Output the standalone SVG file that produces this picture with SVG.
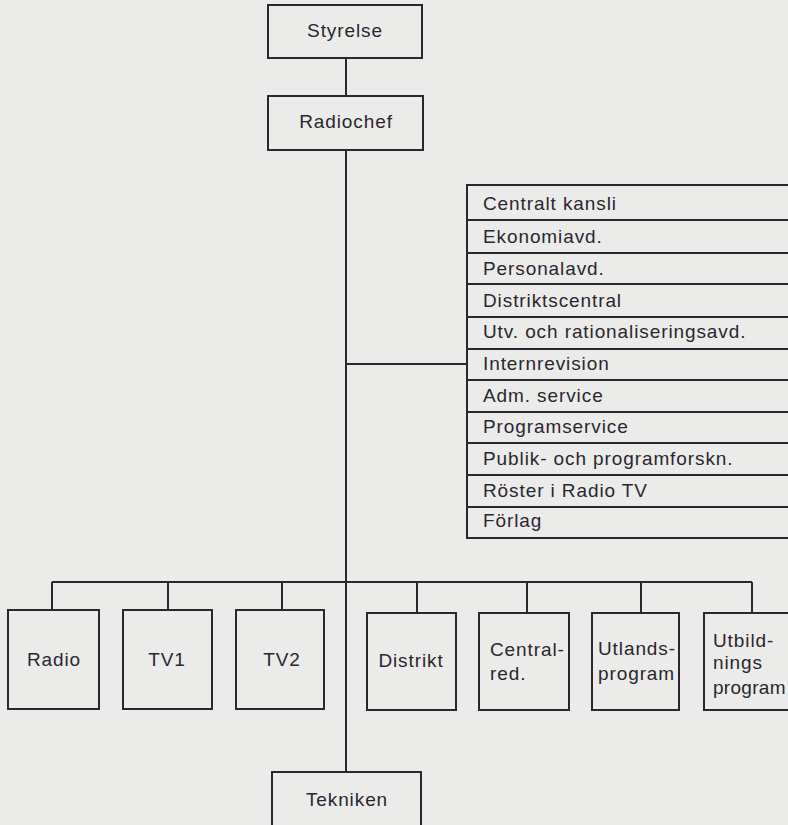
<svg xmlns="http://www.w3.org/2000/svg" width="788" height="825" viewBox="0 0 788 825">
<style>
.bx{fill:none;stroke:#2b2630;stroke-width:2}
.ln{fill:none;stroke:#2b2630;stroke-width:2}
text{font-family:"Liberation Sans",Arial,sans-serif;font-size:19px;letter-spacing:0.9px;fill:#2b2630}
.c{text-anchor:middle}
</style>
<rect x="0" y="0" width="788" height="825" fill="#ebebe9"/>
<g id="connectors">
<line class="ln" x1="346" y1="58" x2="346" y2="96"/>
<line class="ln" x1="346" y1="150" x2="346" y2="772"/>
<line class="ln" x1="346" y1="364" x2="467" y2="364"/>
<line class="ln" x1="52" y1="582" x2="752" y2="582"/>
<line class="ln" x1="52" y1="582" x2="52" y2="610"/>
<line class="ln" x1="168" y1="582" x2="168" y2="610"/>
<line class="ln" x1="282" y1="582" x2="282" y2="610"/>
<line class="ln" x1="417" y1="582" x2="417" y2="613"/>
<line class="ln" x1="527" y1="582" x2="527" y2="613"/>
<line class="ln" x1="641" y1="582" x2="641" y2="613"/>
<line class="ln" x1="752" y1="582" x2="752" y2="613"/>
</g>
<g id="styrelse"><rect class="bx" x="268" y="5" width="154" height="53"/><text class="c" x="345" y="37">Styrelse</text></g>
<g id="radiochef"><rect class="bx" x="268" y="96" width="155" height="54"/><text class="c" x="346" y="128">Radiochef</text></g>
<g id="stab">
<rect class="bx" x="467" y="185" width="340" height="353"/>
<line class="ln" x1="467" y1="220" x2="790" y2="220"/>
<line class="ln" x1="467" y1="253" x2="790" y2="253"/>
<line class="ln" x1="467" y1="284" x2="790" y2="284"/>
<line class="ln" x1="467" y1="317" x2="790" y2="317"/>
<line class="ln" x1="467" y1="349" x2="790" y2="349"/>
<line class="ln" x1="467" y1="380" x2="790" y2="380"/>
<line class="ln" x1="467" y1="412" x2="790" y2="412"/>
<line class="ln" x1="467" y1="443" x2="790" y2="443"/>
<line class="ln" x1="467" y1="475" x2="790" y2="475"/>
<line class="ln" x1="467" y1="507" x2="790" y2="507"/>
<text x="483" y="210">Centralt kansli</text>
<text x="483" y="243">Ekonomiavd.</text>
<text x="483" y="275">Personalavd.</text>
<text x="483" y="307">Distriktscentral</text>
<text x="483" y="338">Utv. och rationaliseringsavd.</text>
<text x="483" y="370">Internrevision</text>
<text x="483" y="402">Adm. service</text>
<text x="483" y="433">Programservice</text>
<text x="483" y="465">Publik- och programforskn.</text>
<text x="483" y="497">Röster i Radio TV</text>
<text x="483" y="527">Förlag</text>
</g>
<g id="radio"><rect class="bx" x="8" y="610" width="91" height="99"/><text class="c" x="54" y="666">Radio</text></g>
<g id="tv1"><rect class="bx" x="123" y="610" width="89" height="99"/><text class="c" x="167" y="666">TV1</text></g>
<g id="tv2"><rect class="bx" x="236" y="610" width="88" height="99"/><text class="c" x="282" y="666">TV2</text></g>
<g id="distrikt"><rect class="bx" x="367" y="613" width="89" height="97"/><text class="c" x="411" y="667">Distrikt</text></g>
<g id="centralred"><rect class="bx" x="479" y="613" width="90" height="97"/><text x="490" y="656">Central-</text><text x="490" y="680">red.</text></g>
<g id="utlands"><rect class="bx" x="592" y="613" width="87" height="97"/><text x="598" y="655">Utlands-</text><text x="598" y="680">program</text></g>
<g id="utbild"><rect class="bx" x="704" y="613" width="100" height="97"/><text x="713" y="647">Utbild-</text><text x="713" y="669">nings</text><text x="713" y="694" style="letter-spacing:0.3px">program</text></g>
<g id="tekniken"><rect class="bx" x="272" y="772" width="149" height="70"/><text class="c" x="347" y="806">Tekniken</text></g>
</svg>
